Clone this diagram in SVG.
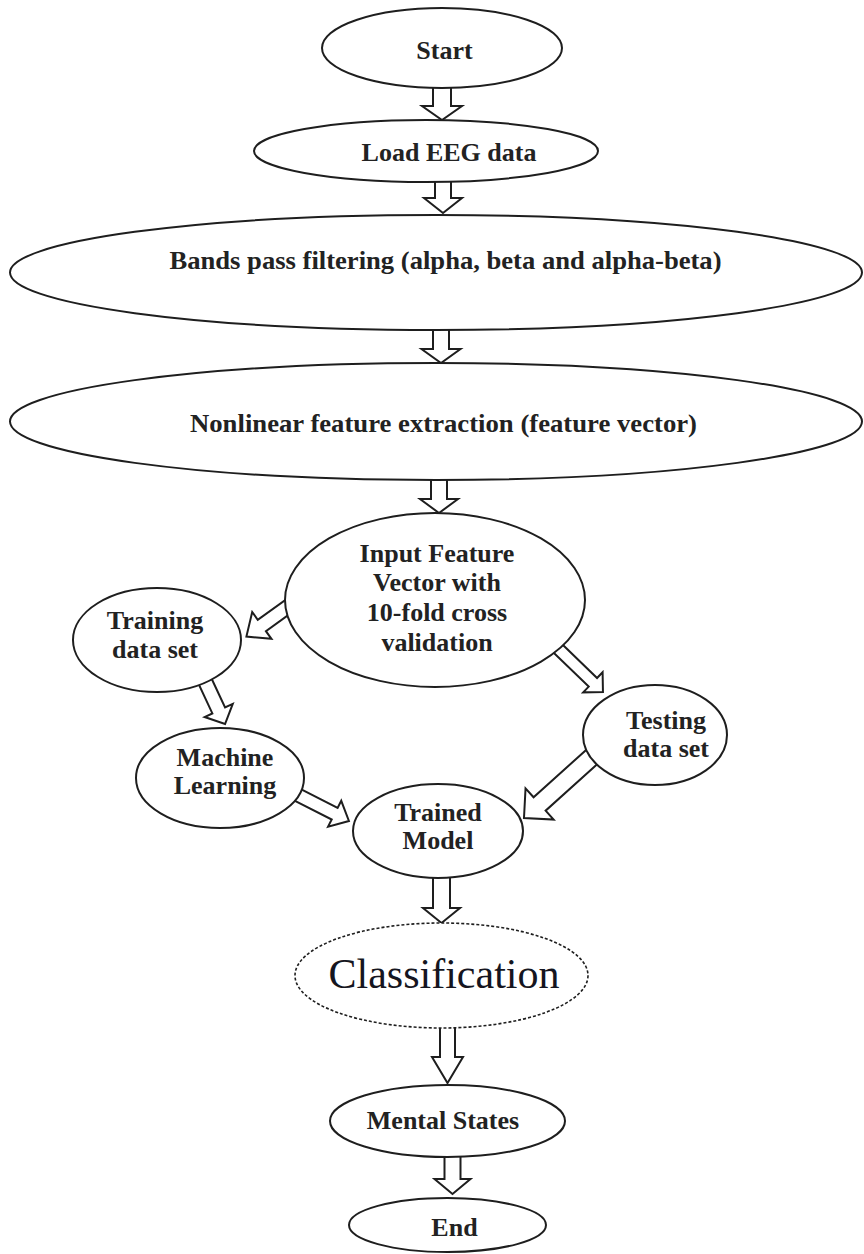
<svg xmlns="http://www.w3.org/2000/svg" width="864" height="1254" viewBox="0 0 864 1254">
<style>
.n{fill:#fff;stroke:#1e1e1e;stroke-width:2}
.d{fill:#fff;stroke:#1e1e1e;stroke-width:1.6;stroke-dasharray:3 2}
.a{fill:#fff;stroke:#1e1e1e;stroke-width:2;stroke-linejoin:miter}
.t{font-family:"Liberation Serif","Times New Roman",serif;font-weight:bold;font-size:26px;fill:#222;text-anchor:middle}
.c{font-family:"Liberation Serif","Times New Roman",serif;font-size:42px;fill:#151520;text-anchor:middle}
</style>
<rect width="864" height="1254" fill="#fff"/>
<g id="connectors">
<path class="a" transform="translate(442,84) rotate(90)" d="M0,-9 L22,-9 L22,-20 L36,0 L22,20 L22,9 L0,9 Z"/>
<path class="a" transform="translate(443,176) rotate(90)" d="M0,-8 L22,-8 L22,-19 L37,0 L22,19 L22,8 L0,8 Z"/>
<path class="a" transform="translate(441,326) rotate(90)" d="M0,-8 L23,-8 L23,-19.5 L37,0 L23,19.5 L23,8 L0,8 Z"/>
<path class="a" transform="translate(439,474) rotate(90)" d="M0,-8 L25,-8 L25,-19 L39,0 L25,19 L25,8 L0,8 Z"/>
<path class="a" transform="translate(300,598) rotate(144.3)" d="M0,-7 L47,-7 L47,-16.5 L66,0 L47,16.5 L47,7 L0,7 Z"/>
<path class="a" transform="translate(201.8,674.2) rotate(65)" d="M0,-7 L40,-7 L40,-15.5 L55,0 L40,15.5 L40,7 L0,7 Z"/>
<path class="a" transform="translate(291,791.5) rotate(27)" d="M0,-6.5 L49,-6.5 L49,-14.5 L65,0 L49,14.5 L49,6.5 L0,6.5 Z"/>
<path class="a" transform="translate(552.6,643.4) rotate(44)" d="M0,-6 L56,-6 L56,-14 L70,0 L56,14 L56,6 L0,6 Z"/>
<path class="a" transform="translate(598.3,751.1) rotate(138)" d="M0,-9 L79,-9 L79,-21 L100,0 L79,21 L79,9 L0,9 Z"/>
<path class="a" transform="translate(441.5,870) rotate(90)" d="M0,-8.5 L38,-8.5 L38,-18.5 L53,0 L38,18.5 L38,8.5 L0,8.5 Z"/>
<path class="a" transform="translate(447.5,1020) rotate(90)" d="M0,-7.5 L37,-7.5 L37,-15.5 L63,0 L37,15.5 L37,7.5 L0,7.5 Z"/>
<path class="a" transform="translate(452.5,1150) rotate(90)" d="M0,-8 L29,-8 L29,-18 L44,0 L29,18 L29,8 L0,8 Z"/>
</g>
<g id="start"><ellipse class="n" cx="442" cy="48" rx="120" ry="40"/><text class="t" x="444.5" y="59">Start</text></g>
<g id="load"><ellipse class="n" cx="426" cy="151" rx="172" ry="31"/><text class="t" x="449" y="161">Load EEG data</text></g>
<g id="bands"><ellipse class="n" cx="436" cy="272.5" rx="426" ry="57.5"/><text class="t" x="445.5" y="269" textLength="552" lengthAdjust="spacingAndGlyphs">Bands pass filtering (alpha, beta and alpha-beta)</text></g>
<g id="nonlinear"><ellipse class="n" cx="436" cy="421.5" rx="426" ry="58.5"/><text class="t" x="443.5" y="432" textLength="507" lengthAdjust="spacingAndGlyphs">Nonlinear feature extraction (feature vector)</text></g>
<g id="input"><ellipse class="n" cx="435" cy="600" rx="150" ry="87"/><text class="t" x="437" y="562">Input Feature</text><text class="t" x="437" y="591">Vector with</text><text class="t" x="437" y="621">10-fold cross</text><text class="t" x="437" y="651">validation</text></g>
<g id="training"><ellipse class="n" cx="157" cy="640" rx="84" ry="52"/><text class="t" x="155" y="629">Training</text><text class="t" x="155" y="658">data set</text></g>
<g id="machine"><ellipse class="n" cx="220" cy="778" rx="84" ry="50"/><text class="t" x="225" y="765.5">Machine</text><text class="t" x="225" y="794">Learning</text></g>
<g id="testing"><ellipse class="n" cx="655" cy="735" rx="72" ry="50"/><text class="t" x="666" y="728.5">Testing</text><text class="t" x="666" y="756.5">data set</text></g>
<g id="trained"><ellipse class="n" cx="438" cy="831" rx="85" ry="47"/><text class="t" x="438" y="820.5">Trained</text><text class="t" x="438" y="849">Model</text></g>
<g id="classification"><ellipse class="d" cx="441.5" cy="975.5" rx="146.5" ry="52.5"/><text class="c" x="444" y="988">Classification</text></g>
<g id="mental"><ellipse class="n" cx="447.5" cy="1121" rx="117.5" ry="36"/><text class="t" x="443" y="1129">Mental States</text></g>
<g id="end"><ellipse class="n" cx="447.5" cy="1225" rx="98.5" ry="27"/><text class="t" x="454.5" y="1236">End</text></g>
</svg>
